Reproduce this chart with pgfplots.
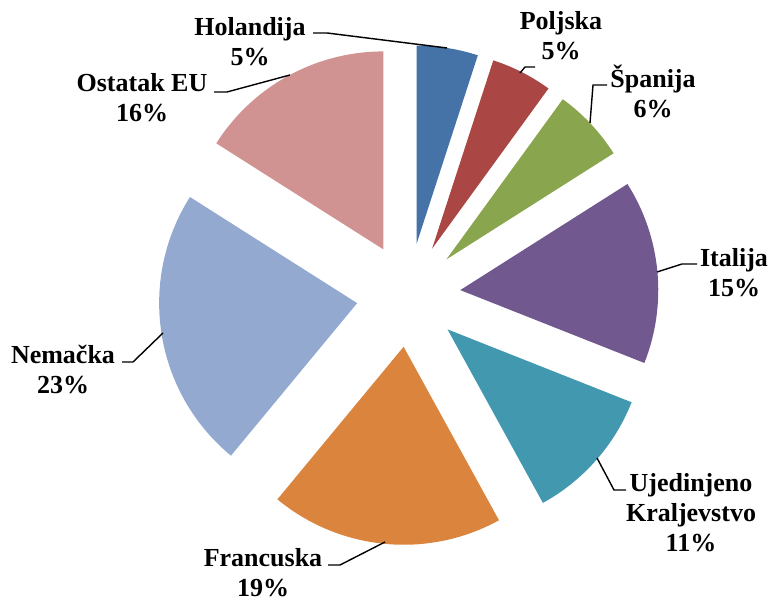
\documentclass[border=0pt]{standalone}
\usepackage{pgfplots}
\pgfplotsset{compat=1.18}
\usepackage{fontspec}
\setmainfont{Liberation Serif}
\definecolor{cHol}{HTML}{4572A7}
\definecolor{cPol}{HTML}{AA4643}
\definecolor{cSpa}{HTML}{89A54E}
\definecolor{cIta}{HTML}{71588F}
\definecolor{cUK}{HTML}{4198AF}
\definecolor{cFra}{HTML}{DB843D}
\definecolor{cNem}{HTML}{93A9CF}
\definecolor{cOst}{HTML}{D19392}
% pie centre (408.5,308), radius 198, explode 52 -- all in axis units
% \slice{cumulative start %}{share %}{colour}
\newcommand{\slice}[3]{%
  \pgfmathsetmacro{\sa}{90-3.6*#1}%
  \pgfmathsetmacro{\sb}{90-3.6*(#1+#2)}%
  \pgfmathsetmacro{\sm}{(\sa+\sb)/2}%
  \pgfmathsetmacro{\px}{408.5+52*cos(\sm)}%
  \pgfmathsetmacro{\py}{308+52*sin(\sm)}%
  \pgfmathsetmacro{\qx}{\px+198*cos(\sa)}%
  \pgfmathsetmacro{\qy}{\py+198*sin(\sa)}%
  \edef\doslice{\noexpand\fill[#3] (axis cs:\px,\py) -- (axis cs:\qx,\qy)
    arc[start angle=\sa, end angle=\sb, radius=99pt] -- cycle;}%
  \doslice}
\begin{document}
\begin{tikzpicture}[
  lab/.style={align=center,font=\fontsize{13}{15}\selectfont\bfseries,inner sep=0pt},
  leader/.style={black,line width=0.7pt}]
\begin{axis}[x=0.5pt,y=0.5pt,xmin=0,xmax=769,ymin=0,ymax=603,
  hide axis,clip=false,disabledatascaling]
\path (rel axis cs:0,0) rectangle (rel axis cs:1,1);
\slice{0}{5}{cHol}
\slice{5}{5}{cPol}
\slice{10}{6}{cSpa}
\slice{16}{15}{cIta}
\slice{31}{11}{cUK}
\slice{42}{19}{cFra}
\slice{61}{23}{cNem}
\slice{84}{16}{cOst}
\draw[leader] (axis cs:313,570) -- (axis cs:327,570) -- (axis cs:447,555);
\draw[leader] (axis cs:535,536) -- (axis cs:525,536) -- (axis cs:520,530);
\draw[leader] (axis cs:607,518) -- (axis cs:593,518) -- (axis cs:590,480);
\draw[leader] (axis cs:214,511) -- (axis cs:227,511) -- (axis cs:290,528);
\draw[leader] (axis cs:697,339) -- (axis cs:682,339) -- (axis cs:657,331);
\draw[leader] (axis cs:122,241) -- (axis cs:133,241) -- (axis cs:163,270);
\draw[leader] (axis cs:626,113) -- (axis cs:614,113) -- (axis cs:597,145);
\draw[leader] (axis cs:328,38) -- (axis cs:340,38) -- (axis cs:385,61);
\node[lab] at (axis cs:250,561) {Holandija\\5\%};
\node[lab] at (axis cs:561,567) {Poljska\\5\%};
\node[lab] at (axis cs:653,512) {Španija\\6\%};
\node[lab] at (axis cs:142,505) {Ostatak EU\\16\%};
\node[lab] at (axis cs:734,330) {Italija\\15\%};
\node[lab] at (axis cs:63,233) {Nemačka\\23\%};
\node[lab] at (axis cs:691,90) {Ujedinjeno\\Kraljevstvo\\11\%};
\node[lab] at (axis cs:263,30) {Francuska\\19\%};
\end{axis}
\end{tikzpicture}
\end{document}
